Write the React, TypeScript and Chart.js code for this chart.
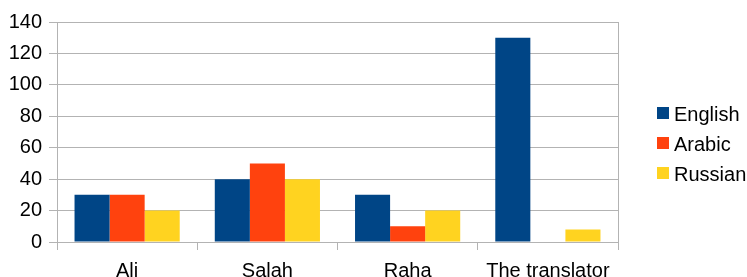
import React, { useEffect, useRef } from 'react';
import { Chart, registerables } from 'chart.js';

Chart.register(...registerables);

const categories = ['Ali', 'Salah', 'Raha', 'The translator'];
const seriesNames = ['English', 'Arabic', 'Russian'];
const english = [30, 40, 30, 130];
const arabic = [30, 50, 10, 0];
const russian = [20, 40, 20, 8];
const seriesColors = ['#004586', '#ff420e', '#ffd320'];
const yMin = 0;
const yMax = 140;
const yStep = 20;

const GRID = '#b3b3b3';
const FONT = "'Liberation Sans', Arial, sans-serif";
const FS = 20;

const sideLegend = {
  id: 'sideLegend',
  afterDraw(chart: any) {
    const ctx = chart.ctx;
    const area = chart.chartArea;
    const x0 = area.right + 39;
    const top = area.top + 85;
    ctx.save();
    ctx.font = `${FS}px ${FONT}`;
    ctx.textBaseline = 'alphabetic';
    ctx.textAlign = 'left';
    chart.data.datasets.forEach((ds: any, i: number) => {
      const y = top + i * 30;
      ctx.fillStyle = ds.backgroundColor;
      ctx.fillRect(x0, y, 12, 12);
      ctx.fillStyle = '#000';
      ctx.fillText(ds.label, x0 + 17, y + 13.5);
    });
    ctx.restore();
  },
};

export default function App() {
  const ref = useRef<HTMLCanvasElement>(null);
  useEffect(() => {
    if (!ref.current) return;
    const values = [english, arabic, russian];
    const chart = new Chart(ref.current, {
      type: 'bar',
      data: {
        labels: categories,
        datasets: seriesNames.map((name, i) => ({
          label: name,
          data: values[i],
          backgroundColor: seriesColors[i],
          borderWidth: 0,
          categoryPercentage: 0.75,
          barPercentage: 1,
        })),
      },
      options: {
        animation: false,
        responsive: false,
        maintainAspectRatio: false,
        layout: { padding: { top: 22, right: 129, left: 0, bottom: 0 } },
        plugins: { legend: { display: false }, tooltip: { enabled: false } },
        font: { family: FONT, size: FS },
        scales: {
          x: {
            offset: true,
            grid: {
              offset: true,
              color: (c: any) => (c.index === 0 || c.index === undefined ? GRID : 'rgba(0,0,0,0)'),
              tickColor: GRID,
              tickLength: 8,
              lineWidth: 1,
            },
            border: { color: GRID, width: 1 },
            ticks: { color: '#000', font: { family: FONT, size: FS }, padding: 9, maxRotation: 0, autoSkip: false },
            afterFit: (s: any) => { s.height = 35; },
          },
          y: {
            min: yMin,
            max: yMax,
            grid: { color: GRID, tickColor: GRID, tickLength: 8, lineWidth: 1 },
            border: { color: GRID, width: 1 },
            ticks: { stepSize: yStep, color: '#000', font: { family: FONT, size: FS }, padding: 7 },
            afterFit: (s: any) => { s.width = 57; },
          },
        },
      },
      plugins: [sideLegend],
    } as any);
    return () => chart.destroy();
  }, []);
  return (
    <div style={{ position: 'absolute', left: 0, top: 0, width: 747, height: 277, overflow: 'hidden', background: '#fff' }}>
      <canvas ref={ref} width={747} height={277} style={{ display: 'block' }} />
    </div>
  );
}
